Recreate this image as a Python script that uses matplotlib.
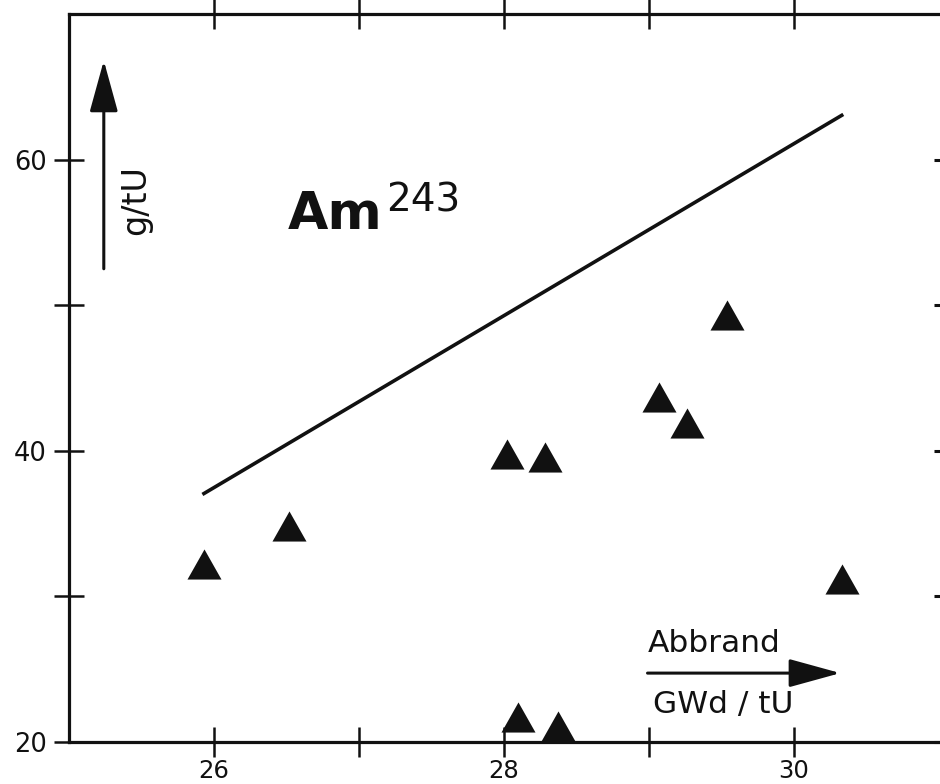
import matplotlib
matplotlib.use("Agg")
import matplotlib.pyplot as plt

# burnup (GWd/tU) vs Am-243 content (g/tU)
burnup = [25.93, 26.52, 28.02, 28.28, 28.10, 28.37, 29.07, 29.26, 29.54, 30.33]
am243 = [32.2, 34.8, 39.8, 39.6, 21.7, 21.1, 43.7, 41.9, 49.3, 31.2]

calc_burnup = [25.92, 30.34]
calc_am243 = [37.0, 63.1]

x_ticks = [26, 27, 28, 29, 30]
x_tick_labels = ["26", "", "28", "", "30"]
y_ticks = [20, 30, 40, 50, 60]
y_tick_labels = ["20", "", "40", "", "60"]

INK = "#111111"
TRIANGLE = [(-1.13, -1.0), (1.13, -1.0), (0.0, 1.0)]

fig = plt.figure(figsize=(9.4, 7.84), dpi=100)
ax = fig.add_axes([0.0734, 0.0536, 0.9255, 0.9286])

ax.plot(calc_burnup, calc_am243, color=INK, lw=2.6, solid_capstyle="butt")
ax.plot(burnup, am243, ls="none", marker=TRIANGLE, ms=24.5,
        color=INK, mec=INK, mew=0, clip_on=False)

ax.set_xlim(25, 31)
ax.set_ylim(20, 70)

ax.set_xticks(x_ticks)
ax.set_xticklabels(x_tick_labels)
ax.set_yticks(y_ticks)
ax.set_yticklabels(y_tick_labels)

for side in ["left", "bottom", "top"]:
    ax.spines[side].set_linewidth(2.3)
    ax.spines[side].set_color(INK)
ax.spines["right"].set_visible(False)

ax.tick_params(axis="both", which="major", direction="inout", length=22,
               width=1.8, color=INK, labelcolor=INK)
ax.tick_params(axis="y", labelsize=18.5, pad=5, right=True)
ax.tick_params(axis="x", labelsize=17.5, pad=1, top=True)
for t in ax.yaxis.get_major_ticks():
    t.tick2line.set_markersize(6.5)
    t.tick2line.set_markeredgewidth(2.2)

# nuclide label
ax.text(26.51, 55.2, "Am", fontsize=37.5, fontweight="bold", color=INK,
        ha="left", va="baseline")
ax.text(27.19, 56.4, "243", fontsize=28, color=INK, ha="left", va="baseline")

# axis direction arrows with units
arrow = dict(arrowstyle="-|>,head_length=0.8,head_width=0.22",
             mutation_scale=40, lw=2.2, color=INK, shrinkA=0, shrinkB=0)
ax.annotate("", xy=(25.24, 66.8), xytext=(25.24, 52.5), arrowprops=arrow)
ax.text(25.46, 57.2, "g/tU", rotation=90, fontsize=24, color=INK,
        ha="center", va="center")

ax.annotate("", xy=(30.32, 24.73), xytext=(28.99, 24.73), arrowprops=arrow)
ax.text(28.99, 26.16, "Abbrand", fontsize=22.5, color=INK, ha="left", va="baseline")
ax.text(29.03, 21.99, "GWd / tU", fontsize=22.5, color=INK, ha="left", va="baseline")

fig.savefig("out.png", dpi=100)
